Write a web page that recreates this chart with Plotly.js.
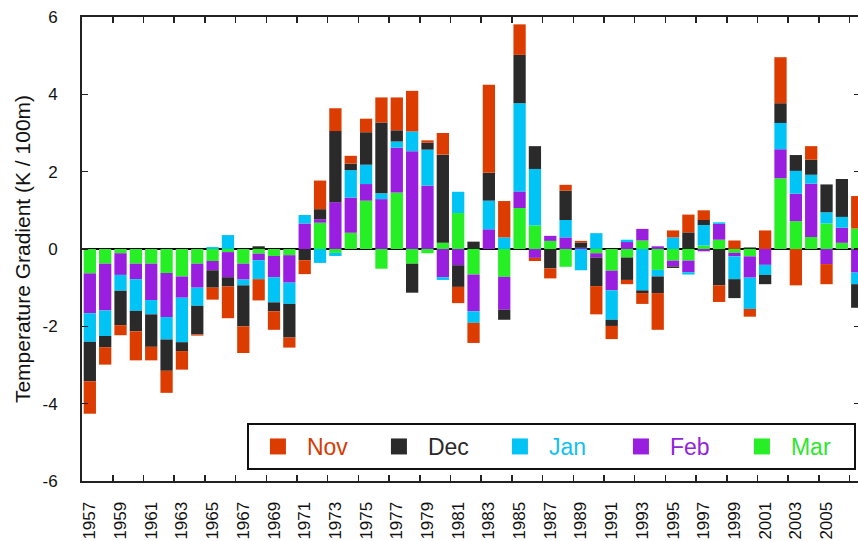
<!DOCTYPE html>
<html><head><meta charset="utf-8">
<script src="https://cdn.plot.ly/plotly-3.0.1.min.js"></script>
<style>html,body{margin:0;padding:0;overflow:hidden;background:#fff}#chart{width:880px;height:541px}</style>
</head><body><div id="chart"></div>
<script>
const years = [1957,1958,1959,1960,1961,1962,1963,1964,1965,1966,1967,1968,1969,1970,1971,1972,1973,1974,1975,1976,1977,1978,1979,1980,1981,1982,1983,1984,1985,1986,1987,1988,1989,1990,1991,1992,1993,1994,1995,1996,1997,1998,1999,2000,2001,2002,2003,2004,2005,2006,2007];
const nov = [-0.84,-0.45,-0.26,-0.75,-0.35,-0.57,-0.48,-0.03,-0.31,-0.82,-0.69,-0.55,-0.48,-0.26,-0.36,0.74,0.59,0.20,0.35,0.65,0.85,1.05,0.06,0.56,-0.42,-0.52,2.28,0.94,0.79,-0.08,-0.26,0.15,0.04,-0.73,-0.34,-0.11,-0.28,-0.95,0.18,0.46,0.25,-0.43,0.22,-0.20,0.48,1.19,-0.94,0.35,-0.52,0,0.84];
const dec = [-1.02,-0.29,-0.89,-0.53,-0.84,-0.81,-0.23,-0.74,-0.45,-0.24,-1.06,0.07,-0.23,-0.87,-0.29,0.26,1.84,0.17,0.84,1.83,0.29,-0.75,0.18,2.28,-0.56,0.19,0.72,-0.26,1.25,0.59,-0.50,0.76,0.14,-0.74,-0.16,-0.58,-0.07,-0.43,-0.04,0.43,0.13,-0.94,-0.49,0.04,-0.24,0.51,0.41,0.39,0.72,0.98,-0.61];
const jan = [-0.74,-0.66,-0.41,-0.82,-0.37,-0.58,-1.15,-0.47,0.05,0.36,-0.15,-0.49,-0.65,-0.55,0.22,-0.36,-0.08,0.71,0.50,0.15,0.16,0.51,0.93,-0.07,0.55,-0.30,0.74,0.30,2.28,1.46,0,0.45,-0.55,0.41,-0.76,0.06,-1.07,-0.17,0.30,-0.06,0.53,0.04,-0.59,-0.81,-0.26,0.68,0.59,0.23,0.29,0.28,-0.30];
const feb = [-1.03,-1.21,-0.56,-0.40,-0.94,-1.14,-0.55,-0.62,-0.24,-0.65,-0.41,-0.17,-0.55,-0.71,0.66,0.09,1.21,0.91,0.43,1.29,1.16,2.53,1.64,-0.73,-0.42,-0.95,0.51,-0.85,0.43,-0.23,0.13,0.30,0.03,-0.11,-0.51,0.18,0.30,0.07,-0.15,-0.30,-0.06,0.41,-0.09,-0.55,-0.41,0.75,0.71,1.38,-0.39,0.39,-0.61];
const mar = [-0.63,-0.38,-0.11,-0.38,-0.38,-0.62,-0.71,-0.38,-0.31,-0.08,-0.38,-0.12,-0.18,-0.16,0,0.68,-0.10,0.42,1.25,-0.51,1.46,-0.38,-0.11,0.16,0.93,-0.66,0,-0.72,1.06,0.61,0.21,-0.46,0,-0.11,-0.56,-0.22,0.22,-0.54,-0.30,-0.30,0.09,0.24,-0.10,-0.19,0,1.83,0.72,0.31,0.66,0.16,0.53];
const labelYears = [1957,1959,1961,1963,1965,1967,1969,1971,1973,1975,1977,1979,1981,1983,1985,1987,1989,1991,1993,1995,1997,1999,2001,2003,2005];
const tickLabels = labelYears.map(String);
const yTickVals = [-6,-4,-2,0,2,4,6];
const yTickLabels = ['-6','-4','-2','0','2','4','6'];
const seriesNames = ['Nov','Dec','Jan','Feb','Mar'];
const seriesData = [nov, dec, jan, feb, mar];
const barColors = ['#dc3c00','#2a2a2a','#00c4f5','#9a1ee0','#26ef26'];
const textColors = ['#d63c00','#2a2a2a','#14bff2','#9224dc','#2ee62e'];

const traces = [];
// stacking order from zero outward: Mar, Feb, Jan, Dec, Nov
for (let i = 4; i >= 0; i--) {
  traces.push({type:'bar', x: years, y: seriesData[i], name: seriesNames[i],
    marker:{color: barColors[i], line:{width:0}}, showlegend:false, hoverinfo:'x+y+name'});
}
// legend entries
for (let i = 0; i < 5; i++) {
  traces.push({type:'scatter', mode:'markers', x:[null], y:[null],
    name:'<span style="color:'+textColors[i]+'">'+seriesNames[i]+'</span>',
    marker:{symbol:'square', size:16, color: barColors[i]}, showlegend:true, hoverinfo:'skip'});
}
const tickMarks = labelYears.map(y => y + 1.5);
const font = 'Arial, "Liberation Sans", Helvetica, sans-serif';
const layout = {
  width: 880, height: 541,
  margin:{l:82, r:20, t:17, b:60},
  barmode:'relative', bargap:0.2,
  paper_bgcolor:'#fff', plot_bgcolor:'#fff',
  font:{family:font, color:'#111'},
  xaxis:{range:[1956.49, 2007.18], tickmode:'array', tickvals: labelYears, ticktext: tickLabels,
    tickangle:-90, ticks:'', showline:true, linecolor:'#222', linewidth:2, mirror:'ticks',
    showgrid:false, zeroline:false, tickfont:{size:17, color:'#111'}, ticklabelstandoff:12,
    minor:{tickmode:'array', tickvals: tickMarks, ticks:'inside', ticklen:6, tickwidth:1.5, tickcolor:'#222', showgrid:false}},
  yaxis:{range:[-6,6], tickmode:'array', tickvals: yTickVals, ticktext: yTickLabels, ticks:'inside', ticklen:6, tickwidth:1.5,
    tickcolor:'#222', showline:true, linecolor:'#222', linewidth:2, mirror:'ticks', showgrid:false,
    zeroline:true, zerolinecolor:'#000', zerolinewidth:2, tickfont:{size:17, color:'#111'}, ticklabelstandoff:19,
    title:{text:'Temperature Gradient (K / 100m)', font:{size:21, color:'#111'}, standoff:6}},
  legend:{orientation:'h', x:0.212, y:0.125, xanchor:'left', yanchor:'top', bgcolor:'#fff',
    bordercolor:'#111', borderwidth:2, font:{size:23}, entrywidth:58, itemwidth:48, itemsizing:'trace', traceorder:'normal'},
  showlegend:true
};
Plotly.newPlot('chart', traces, layout, {displayModeBar:false, staticPlot:true});
</script>
</body></html>
